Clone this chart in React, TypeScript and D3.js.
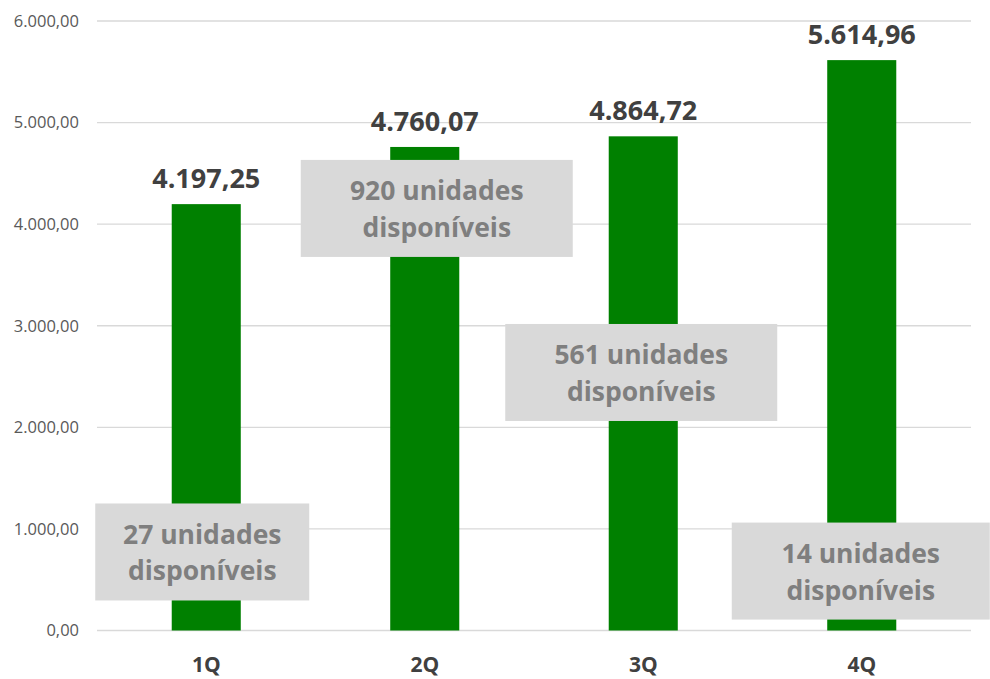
import React from "react";
import * as d3 from "d3";

const categories = ["1Q", "2Q", "3Q", "4Q"];
const values = [4197.25, 4760.07, 4864.72, 5614.96];
const yTicks = [0, 1000, 2000, 3000, 4000, 5000, 6000];
const unitLines = [
  ["27 unidades", "disponíveis"],
  ["920 unidades", "disponíveis"],
  ["561 unidades", "disponíveis"],
  ["14 unidades", "disponíveis"],
];
// annotation box anchor: value level (center) for each category
const boxLevels = [773, 4155, 2540, 585];
const boxDx = [-4, 12, -2, -1];
const boxWidths = [214, 272, 272, 258];

const W = 990;
const H = 679;
const margin = { left: 97, right: 19, top: 21, bottom: 48.5 };

const fmt = (v: number) => {
  const s = v.toFixed(2).split(".");
  const int = s[0].replace(/\B(?=(\d{3})+(?!\d))/g, ".");
  return int + "," + s[1];
};

export default function App() {
  const x = d3
    .scaleBand<string>()
    .domain(categories)
    .range([margin.left, W - margin.right])
    .paddingInner(0.684)
    .paddingOuter(0.342);
  const y = d3
    .scaleLinear()
    .domain([0, 6000])
    .range([H - margin.bottom, margin.top]);
  const font = "'Open Sans', sans-serif";

  return (
    <svg
      width={W}
      height={H}
      style={{ position: "absolute", left: 0, top: 0, background: "#fff" }}
    >
      {yTicks.map((t) => (
        <g key={t}>
          <line
            x1={margin.left}
            x2={W - margin.right}
            y1={y(t)}
            y2={y(t)}
            stroke="#d9d9d9"
            strokeWidth={1.3}
          />
          <text
            x={79}
            y={y(t)}
            dy="0.35em"
            textAnchor="end"
            fontFamily={font}
            fontSize={16.5}
            fill="#595959"
          >
            {fmt(t)}
          </text>
        </g>
      ))}
      {categories.map((c, i) => (
        <g key={c}>
          <rect
            x={x(c)}
            y={y(values[i])}
            width={x.bandwidth()}
            height={y(0) - y(values[i])}
            fill="#008000"
          />
          <text
            x={x(c)! + x.bandwidth() / 2}
            y={y(values[i]) - 16}
            textAnchor="middle"
            fontFamily={font}
            fontWeight="bold"
            fontSize={27}
            fill="#404040"
          >
            {fmt(values[i])}
          </text>
          <text
            x={x(c)! + x.bandwidth() / 2}
            y={672}
            textAnchor="middle"
            fontFamily={font}
            fontWeight="bold"
            fontSize={21}
            fill="#404040"
          >
            {c}
          </text>
        </g>
      ))}
      {categories.map((c, i) => {
        const cx = x(c)! + x.bandwidth() / 2 + boxDx[i];
        const cy = y(boxLevels[i]);
        const bw = boxWidths[i];
        const bh = 97;
        return (
          <g key={"box" + c}>
            <rect
              x={cx - bw / 2}
              y={cy - bh / 2}
              width={bw}
              height={bh}
              fill="#d9d9d9"
            />
            {unitLines[i].map((ln, j) => (
              <text
                key={j}
                x={cx}
                y={cy - 8 + j * 36.5}
                textAnchor="middle"
                fontFamily={font}
                fontWeight="bold"
                fontSize={26.5}
                fill="#7f7f7f"
              >
                {ln}
              </text>
            ))}
          </g>
        );
      })}
    </svg>
  );
}
